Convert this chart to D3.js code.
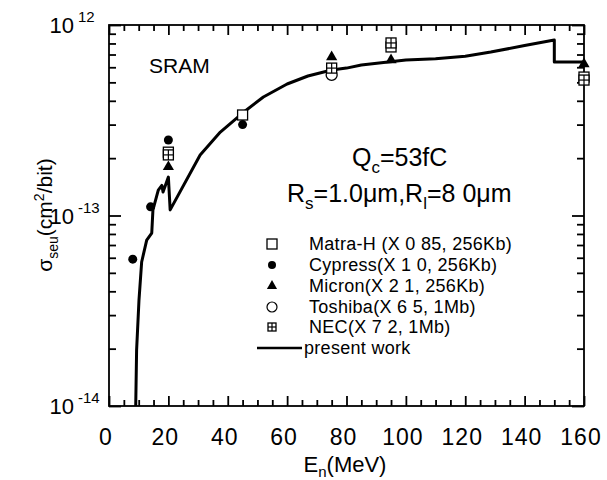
<!DOCTYPE html>
<html><head><meta charset="utf-8">
<script src="https://cdn.jsdelivr.net/npm/d3@7/dist/d3.min.js"></script>
<style>
body{margin:0;background:#fff;}
text{font-family:"Liberation Sans",Arial,Helvetica,sans-serif;fill:#000;}
</style></head>
<body>
<svg id="c" width="607" height="480"></svg>
<script>
// ---- data ----
const curveE = [9, 9.3, 10.1, 11, 12.7, 14.4, 14.8, 16.6, 17.8, 18.2, 20, 20.6, 30.7, 37.5, 45, 52, 60, 67, 75, 80, 85, 100, 110, 120, 128.6, 140, 150, 150, 160];
const curveS = [1e-14, 1.97e-14, 3.6e-14, 5.7e-14, 7.43e-14, 8.09e-14, 1.07e-13, 1.36e-13, 1.44e-13, 1.33e-13, 1.59e-13, 1.07e-13, 2.08e-13, 2.74e-13, 3.45e-13, 4.19e-13, 4.9e-13, 5.4e-13, 5.81e-13, 5.94e-13, 6.17e-13, 6.55e-13, 6.65e-13, 6.85e-13, 7.21e-13, 7.8e-13, 8.34e-13, 6.4e-13, 6.4e-13];
const matraE = [20, 45, 95, 160];
const matraS = [2.15e-13, 3.37e-13, 7.67e-13, 5.33e-13];
const cypressE = [8, 14, 20, 45];
const cypressS = [5.9e-14, 1.11e-13, 2.49e-13, 3.0e-13];
const micronE = [20, 75, 95, 160];
const micronS = [1.80e-13, 6.79e-13, 6.55e-13, 6.24e-13];
const toshibaE = [75];
const toshibaS = [5.47e-13];
const necE = [20, 75, 95, 160];
const necS = [2.08e-13, 5.94e-13, 8.05e-13, 5.14e-13];
const xTicks = [0, 20, 40, 60, 80, 100, 120, 140, 160];
const yTicks = [1e-14, 1e-13, 1e-12];
const yTickLabel = ["-14", "-13", "12"];
const legendLabels = ["Matra-H (X 0 85, 256Kb)", "Cypress(X 1 0, 256Kb)", "Micron(X 2 1, 256Kb)", "Toshiba(X 6 5, 1Mb)", "NEC(X 7 2, 1Mb)", "present work"];

// ---- layout ----
const svg = d3.select("#c");
const L = 109, R = 584, T = 25, B = 406;
const x = d3.scaleLinear().domain([0, 160]).range([L, R]);
const y = d3.scaleLog().domain([1e-14, 1e-12]).range([B, T]);

const minorX = d3.range(0, 161, 5).filter(v => v % 20 !== 0);
const logMinor = [];
[1e-14, 1e-13].forEach(d => { for (let k = 2; k <= 9; k++) logMinor.push(k * d); });

// frame
svg.append("rect").attr("x", L).attr("y", T).attr("width", R - L).attr("height", B - T)
  .attr("fill", "none").attr("stroke", "#000").attr("stroke-width", 1.8);

// ticks via d3 axes (inside)
function drawAxis(gen, tr, vals, size) {
  const g = svg.append("g").attr("transform", tr)
    .call(gen.tickValues(vals).tickSize(size).tickFormat(() => ""));
  g.select(".domain").remove();
  g.selectAll(".tick line").attr("stroke", "#000").attr("stroke-width", 1.8);
}
drawAxis(d3.axisBottom(x), `translate(0,${B})`, xTicks, -10);
drawAxis(d3.axisBottom(x), `translate(0,${B})`, minorX, -6);
drawAxis(d3.axisTop(x), `translate(0,${T})`, xTicks, -10);
drawAxis(d3.axisTop(x), `translate(0,${T})`, minorX, -6);
drawAxis(d3.axisLeft(y), `translate(${L},0)`, yTicks, -12);
drawAxis(d3.axisLeft(y), `translate(${L},0)`, logMinor, -7);
drawAxis(d3.axisRight(y), `translate(${R},0)`, yTicks, -12);
drawAxis(d3.axisRight(y), `translate(${R},0)`, logMinor, -7);

// tick labels
svg.append("g").selectAll("text").data(xTicks).join("text")
  .attr("x", d => x(d) - 3).attr("y", 445).attr("text-anchor", "middle")
  .attr("font-size", 23).attr("letter-spacing", 1).text(d => d);
yTicks.forEach((v, i) => {
  svg.append("text").attr("x", 74).attr("y", y(v) + 8).attr("text-anchor", "end").attr("font-size", 22).text("10");
  svg.append("text").attr("x", 78).attr("y", y(v) - 3).attr("font-size", 15).text(yTickLabel[i]);
});

// axis titles
const xtl = svg.append("text").attr("x", 345).attr("y", 472).attr("text-anchor", "middle").attr("font-size", 22);
xtl.append("tspan").text("E");
xtl.append("tspan").attr("font-size", 15).attr("dy", 5).text("n");
xtl.append("tspan").attr("dy", -5).text("(MeV)");
const ytl = svg.append("text").attr("transform", "translate(52,215) rotate(-90)").attr("text-anchor", "middle").attr("font-size", 21);
ytl.append("tspan").text("σ");
ytl.append("tspan").attr("font-size", 14).attr("dy", 6).text("seu");
ytl.append("tspan").attr("dy", -6).text("(cm");
ytl.append("tspan").attr("font-size", 14).attr("dy", -8).text("2");
ytl.append("tspan").attr("dy", 8).text("/bit)");

// annotations
svg.append("text").attr("x", 149).attr("y", 73).attr("font-size", 21).text("SRAM");
const q = svg.append("text").attr("x", 352).attr("y", 166).attr("font-size", 25);
q.append("tspan").text("Q");
q.append("tspan").attr("font-size", 17).attr("dy", 7).text("c");
q.append("tspan").attr("dy", -7).text("=53fC");
const r = svg.append("text").attr("x", 287).attr("y", 202).attr("font-size", 25);
r.append("tspan").text("R");
r.append("tspan").attr("font-size", 17).attr("dy", 7).text("s");
r.append("tspan").attr("dy", -7).text("=1.0μm,R");
r.append("tspan").attr("font-size", 17).attr("dy", 7).text("l");
r.append("tspan").attr("dy", -7).text("=8 0μm");

// curve
const line = d3.line().x((d, i) => x(curveE[i])).y((d, i) => y(curveS[i]));
svg.append("path").datum(curveE).attr("d", line).attr("fill", "none")
  .attr("stroke", "#000").attr("stroke-width", 3).attr("stroke-linejoin", "round");

// markers
function square(g, cx, cy, s) {
  g.append("rect").attr("x", cx - s / 2).attr("y", cy - s / 2).attr("width", s).attr("height", s)
    .attr("fill", "#fff").attr("stroke", "#000").attr("stroke-width", 1.3);
}
function nec(g, cx, cy, s) {
  square(g, cx, cy, s);
  g.append("line").attr("x1", cx - s / 2).attr("x2", cx + s / 2).attr("y1", cy).attr("y2", cy).attr("stroke", "#000").attr("stroke-width", 1.2);
  g.append("line").attr("x1", cx).attr("x2", cx).attr("y1", cy - s / 2).attr("y2", cy + s / 2).attr("stroke", "#000").attr("stroke-width", 1.2);
}
function tri(g, cx, cy, s) {
  g.append("path").attr("d", d3.symbol(d3.symbolTriangle, s * s * 0.45)()).attr("transform", `translate(${cx},${cy})`).attr("fill", "#000");
}
const gm = svg.append("g");
toshibaE.forEach((e, i) => gm.append("circle").attr("cx", x(e)).attr("cy", y(toshibaS[i])).attr("r", 5.5).attr("fill", "#fff").attr("stroke", "#000").attr("stroke-width", 1.3));
matraE.forEach((e, i) => square(gm, x(e), y(matraS[i]), 10));
necE.forEach((e, i) => nec(gm, x(e), y(necS[i]), 10));
micronE.forEach((e, i) => tri(gm, x(e), y(micronS[i]), 11));
cypressE.forEach((e, i) => gm.append("circle").attr("cx", x(e)).attr("cy", y(cypressS[i])).attr("r", 4.5).attr("fill", "#000"));

// legend
const ly = [244, 265, 286, 307, 327, 348], lx = 272;
const gl = svg.append("g");
square(gl, lx, ly[0], 10);
gl.append("circle").attr("cx", lx).attr("cy", ly[1]).attr("r", 4).attr("fill", "#000");
tri(gl, lx, ly[2], 10);
gl.append("circle").attr("cx", lx).attr("cy", ly[3]).attr("r", 5).attr("fill", "#fff").attr("stroke", "#000").attr("stroke-width", 1.2);
nec(gl, lx, ly[4], 8);
gl.append("line").attr("x1", 257).attr("x2", 302).attr("y1", ly[5]).attr("y2", ly[5]).attr("stroke", "#000").attr("stroke-width", 2.5);
gl.selectAll("text").data(legendLabels).join("text")
  .attr("x", (d, i) => i === 5 ? 304 : 309).attr("y", (d, i) => ly[i] + 6).attr("font-size", 18).attr("letter-spacing", 0.3).text(d => d);
</script>
</body></html>
